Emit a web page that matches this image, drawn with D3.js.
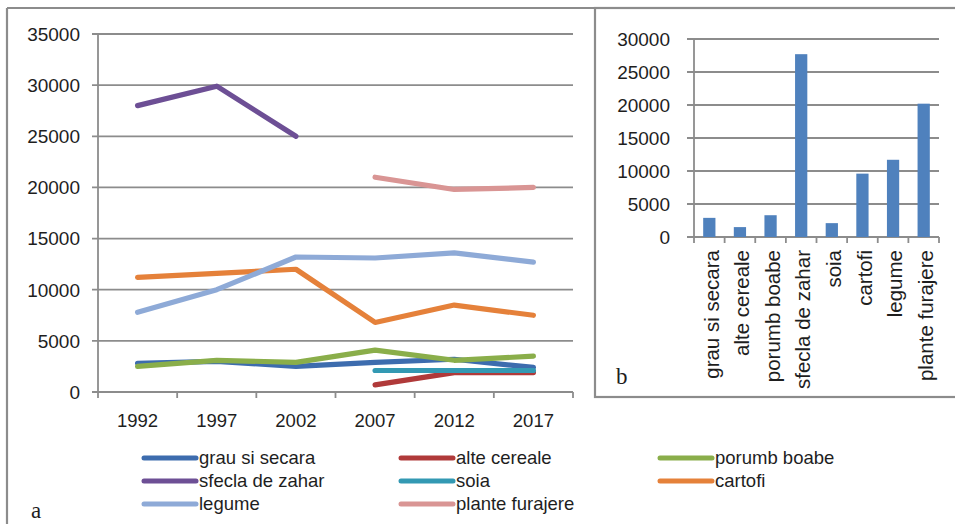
<!DOCTYPE html>
<html>
<head>
<meta charset="utf-8">
<script src="https://cdn.jsdelivr.net/npm/d3@7/dist/d3.min.js"></script>
<style>
  html, body { margin: 0; padding: 0; background: #fff; }
  svg { display: block; }
  text { font-family: "Liberation Sans", Arial, sans-serif; fill: #1e1e1e; }
</style>
</head>
<body>
<svg id="chart" width="955" height="524"></svg>
<script>
// ---- data ----
const years = ["1992", "1997", "2002", "2007", "2012", "2017"];
const seriesNames = ["grau si secara", "alte cereale", "porumb boabe", "sfecla de zahar", "soia", "cartofi", "legume", "plante furajere"];
const grauSiSecara   = [2800, 3000, 2500, 2900, 3200, 2400];
const alteCereale    = [null, null, null, 700, 1900, 1900];
const porumbBoabe    = [2500, 3100, 2900, 4100, 3100, 3500];
const sfeclaDeZahar  = [28000, 29900, 25000, null, null, null];
const soia           = [null, null, null, 2100, 2100, 2100];
const cartofi        = [11200, 11600, 12000, 6800, 8500, 7500];
const legume         = [7800, 10000, 13200, 13100, 13600, 12700];
const planteFurajere = [null, null, null, 21000, 19800, 20000];
const seriesColors = ["#3d6cae", "#b03a3a", "#8aae4a", "#6d4f95", "#3399b3", "#e5813a", "#8eaad7", "#d99594"];
const leftYTicks = [0, 5000, 10000, 15000, 20000, 25000, 30000, 35000];

const barCategories = ["grau si secara", "alte cereale", "porumb boabe", "sfecla de zahar", "soia", "cartofi", "legume", "plante furajere"];
const barValues = [2900, 1500, 3300, 27700, 2100, 9600, 11700, 20200];
const rightYTicks = [0, 5000, 10000, 15000, 20000, 25000, 30000];

const allSeries = [grauSiSecara, alteCereale, porumbBoabe, sfeclaDeZahar, soia, cartofi, legume, planteFurajere];

const svg = d3.select("#chart");
const grid = "#8c8c8c";

// ---- panel frames ----
svg.append("line").attr("x1", 7).attr("x2", 960).attr("y1", 8).attr("y2", 8)
  .attr("stroke", grid).attr("stroke-width", 2.2);
svg.append("line").attr("x1", 7).attr("x2", 7).attr("y1", 8).attr("y2", 530)
  .attr("stroke", grid).attr("stroke-width", 2.2);

// ---- LEFT: line chart ----
const xL = d3.scalePoint().domain(years).range([98, 573]).padding(0.5);
const yL = d3.scaleLinear().domain([0, 35000]).range([392, 34]);
const stepL = xL.step();

const gL = svg.append("g");
gL.selectAll("line.grid").data(leftYTicks.filter(d => d > 0)).join("line")
  .attr("x1", 92).attr("x2", 573)
  .attr("y1", d => yL(d)).attr("y2", d => yL(d))
  .attr("stroke", grid).attr("stroke-width", 1.8);
gL.append("line").attr("x1", 98).attr("x2", 98).attr("y1", yL(35000)).attr("y2", yL(0))
  .attr("stroke", grid).attr("stroke-width", 1.8);
gL.append("line").attr("x1", 92).attr("x2", 573).attr("y1", yL(0)).attr("y2", yL(0))
  .attr("stroke", grid).attr("stroke-width", 1.8);
const xTickPosL = years.map(y => xL(y) - stepL / 2).concat([xL(years[years.length - 1]) + stepL / 2]);
gL.selectAll("line.xt").data(xTickPosL).join("line")
  .attr("x1", d => d).attr("x2", d => d).attr("y1", yL(0)).attr("y2", yL(0) + 6)
  .attr("stroke", grid).attr("stroke-width", 1.8);
gL.selectAll("text.yl").data(leftYTicks).join("text")
  .attr("x", 80).attr("y", d => yL(d)).attr("dy", "0.36em")
  .attr("text-anchor", "end").attr("font-size", 19).text(d => d);
gL.selectAll("text.xl").data(years).join("text")
  .attr("x", d => xL(d)).attr("y", 427)
  .attr("text-anchor", "middle").attr("font-size", 18.5).text(d => d);

const lineGen = d3.line()
  .defined(d => d.v !== null)
  .x(d => xL(d.year)).y(d => yL(d.v));
allSeries.forEach((vals, i) => {
  const pts = years.map((y, j) => ({ year: y, v: vals[j] }));
  gL.append("path").datum(pts)
    .attr("d", lineGen).attr("fill", "none")
    .attr("stroke", seriesColors[i]).attr("stroke-width", 5.2)
    .attr("stroke-linecap", "round").attr("stroke-linejoin", "round");
});

// legend
const legX = [142, 399, 658];
const legY = [458, 481, 504];
seriesNames.forEach((name, i) => {
  const col = i % 3, row = Math.floor(i / 3);
  const g = svg.append("g");
  g.append("line").attr("x1", legX[col] + 2).attr("x2", legX[col] + 54)
    .attr("y1", legY[row]).attr("y2", legY[row])
    .attr("stroke", seriesColors[i]).attr("stroke-width", 5).attr("stroke-linecap", "round");
  g.append("text").attr("x", legX[col] + 57).attr("y", legY[row]).attr("dy", "0.35em")
    .attr("font-size", 18.5).text(name);
});
svg.append("text").attr("x", 31).attr("y", 518)
  .style("font-family", "'Liberation Serif', 'Times New Roman', serif")
  .attr("font-size", 23).text("a");

// ---- RIGHT: bar chart ----
svg.append("rect").attr("x", 595).attr("y", 8).attr("width", 400).attr("height", 389)
  .attr("fill", "#fff").attr("stroke", grid).attr("stroke-width", 2.2);

const xR = d3.scaleBand().domain(barCategories).range([694, 939]).paddingInner(0.6).paddingOuter(0.3);
const yR = d3.scaleLinear().domain([0, 30000]).range([237, 39]);
const stepR = xR.step();
const gR = svg.append("g");
gR.selectAll("line.grid").data(rightYTicks.filter(d => d > 0)).join("line")
  .attr("x1", 687).attr("x2", 939)
  .attr("y1", d => yR(d)).attr("y2", d => yR(d))
  .attr("stroke", grid).attr("stroke-width", 1.8);
gR.append("line").attr("x1", 694).attr("x2", 694).attr("y1", yR(30000)).attr("y2", yR(0))
  .attr("stroke", grid).attr("stroke-width", 1.8);
gR.append("line").attr("x1", 687).attr("x2", 939).attr("y1", yR(0)).attr("y2", yR(0))
  .attr("stroke", grid).attr("stroke-width", 1.8);
const xTickPosR = barCategories.map(c => xR(c) + xR.bandwidth() / 2 - stepR / 2)
  .concat([xR(barCategories[barCategories.length - 1]) + xR.bandwidth() / 2 + stepR / 2]);
gR.selectAll("line.xt").data(xTickPosR).join("line")
  .attr("x1", d => d).attr("x2", d => d).attr("y1", yR(0)).attr("y2", yR(0) + 6)
  .attr("stroke", grid).attr("stroke-width", 1.8);
gR.selectAll("rect.bar").data(barValues).join("rect")
  .attr("x", (d, i) => xR(barCategories[i]))
  .attr("width", xR.bandwidth())
  .attr("y", d => yR(d)).attr("height", d => yR(0) - yR(d))
  .attr("fill", "#4f81bd");
gR.selectAll("text.yl").data(rightYTicks).join("text")
  .attr("x", 670).attr("y", d => yR(d)).attr("dy", "0.36em")
  .attr("text-anchor", "end").attr("font-size", 19).text(d => d);
gR.selectAll("text.xl").data(barCategories).join("text")
  .attr("transform", c => `translate(${xR(c) + xR.bandwidth() / 2 + 2},250) rotate(-90)`)
  .attr("dy", "0.35em")
  .attr("text-anchor", "end").attr("font-size", 20.5).text(c => c);
svg.append("text").attr("x", 616).attr("y", 384)
  .style("font-family", "'Liberation Serif', 'Times New Roman', serif")
  .attr("font-size", 23).text("b");
</script>
</body>
</html>
